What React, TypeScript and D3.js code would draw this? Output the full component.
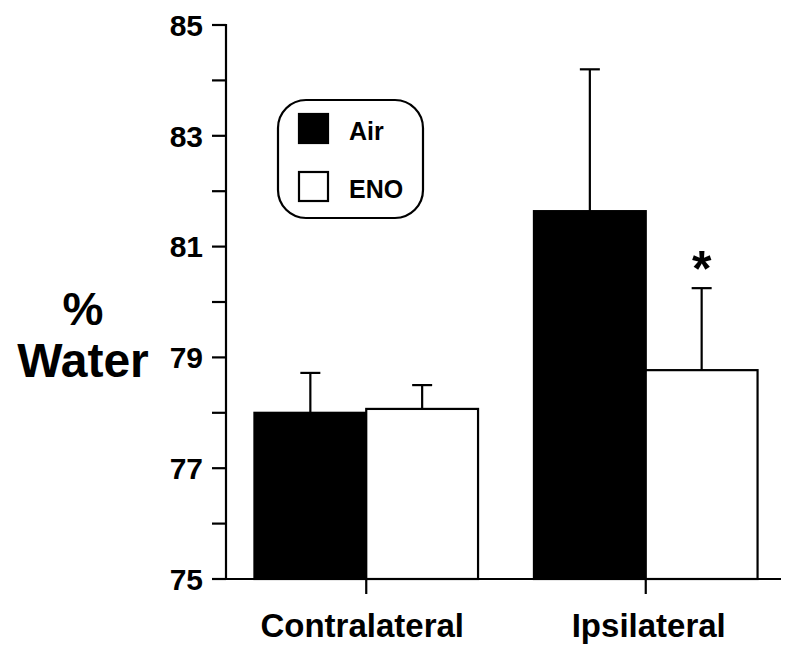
import React from "react";
import * as d3 from "d3";

const groups = ["Contralateral", "Ipsilateral"];
const series = ["Air", "ENO"];
const airMeans = [78.0, 81.64];
const airUpper = [78.72, 84.2];
const enoMeans = [78.07, 78.77];
const enoUpper = [78.5, 80.25];
const yTicks = [75, 76, 77, 78, 79, 80, 81, 82, 83, 84, 85];
const yLabels = [75, 77, 79, 81, 83, 85];
const sigMarks = [{ group: "Ipsilateral", series: "ENO", label: "*" }];

const W = 800;
const H = 661;
const FONT = "'Liberation Sans', Arial, Helvetica, sans-serif";

export default function App() {
  const y = d3.scaleLinear().domain([75, 85]).range([579, 25]);
  const x0 = d3.scaleBand<string>().domain(groups).range([228, 784]).paddingInner(0.2).paddingOuter(0.0946);
  const x1 = d3.scaleBand<string>().domain(series).range([0, x0.bandwidth()]).padding(0);

  const rows = groups.flatMap((g, i) => [
    { g, s: "Air", v: airMeans[i], up: airUpper[i], fill: "#000" },
    { g, s: "ENO", v: enoMeans[i], up: enoUpper[i], fill: "#fff" },
  ]);

  const axisX = 226;
  const baseY = y(75);
  const capW = 20;
  const labelShift = [-4, 3];

  return (
    <svg width={W} height={H} style={{ position: "absolute", left: 0, top: 0, background: "#fff" }} fontFamily={FONT}>
      <rect x={0} y={0} width={W} height={H} fill="#fff" />
      {rows.map((r, i) => {
        const bx = (x0(r.g) as number) + (x1(r.s) as number);
        const bw = x1.bandwidth();
        const cx = bx + bw / 2;
        return (
          <g key={i}>
            <line x1={cx} x2={cx} y1={y(r.v)} y2={y(r.up)} stroke="#000" strokeWidth={2.2} />
            <line x1={cx - capW / 2} x2={cx + capW / 2} y1={y(r.up)} y2={y(r.up)} stroke="#000" strokeWidth={2.2} />
            <rect x={bx} y={y(r.v)} width={bw} height={baseY - y(r.v)} fill={r.fill} stroke="#000" strokeWidth={2.2} />
          </g>
        );
      })}
      {sigMarks.map((m, i) => {
        const idx = groups.indexOf(m.group);
        const up = m.series === "ENO" ? enoUpper[idx] : airUpper[idx];
        const cx = (x0(m.group) as number) + (x1(m.series) as number) + x1.bandwidth() / 2;
        return (
          <text key={i} x={cx} y={y(up) - 2} textAnchor="middle" fontSize={50} fontWeight="bold">
            {m.label}
          </text>
        );
      })}
      <line x1={axisX} x2={axisX} y1={y(85) - 1} y2={baseY + 1} stroke="#000" strokeWidth={2.2} />
      {yTicks.map((t) => (
        <line key={t} x1={axisX - 14} x2={axisX} y1={y(t)} y2={y(t)} stroke="#000" strokeWidth={2.2} />
      ))}
      {yLabels.map((t) => (
        <text key={t} x={203} y={y(t)} dy="0.36em" textAnchor="end" fontSize={30} fontWeight="bold">
          {t}
        </text>
      ))}
      <line x1={axisX} x2={781} y1={baseY} y2={baseY} stroke="#000" strokeWidth={2.2} />
      {groups.map((g, i) => {
        const cx = (x0(g) as number) + x0.bandwidth() / 2;
        return (
          <g key={g}>
            <line x1={cx} x2={cx} y1={baseY} y2={baseY + 15} stroke="#000" strokeWidth={2.2} />
            <text x={cx + labelShift[i]} y={637} textAnchor="middle" fontSize={33} fontWeight="bold">
              {g}
            </text>
          </g>
        );
      })}
      <text x={83} y={325} textAnchor="middle" fontSize={46} fontWeight="bold">%</text>
      <text x={83} y={377} textAnchor="middle" fontSize={48} fontWeight="bold">Water</text>
      <rect x={278} y={100} width={145} height={118} rx={28} ry={28} fill="#fff" stroke="#000" strokeWidth={2.2} />
      {series.map((s, i) => (
        <g key={s}>
          <rect x={299} y={114 + i * 58} width={29} height={29} fill={s === "Air" ? "#000" : "#fff"} stroke="#000" strokeWidth={2.2} />
          <text x={349} y={140 + i * 58} fontSize={25} fontWeight="bold">{s}</text>
        </g>
      ))}
    </svg>
  );
}
